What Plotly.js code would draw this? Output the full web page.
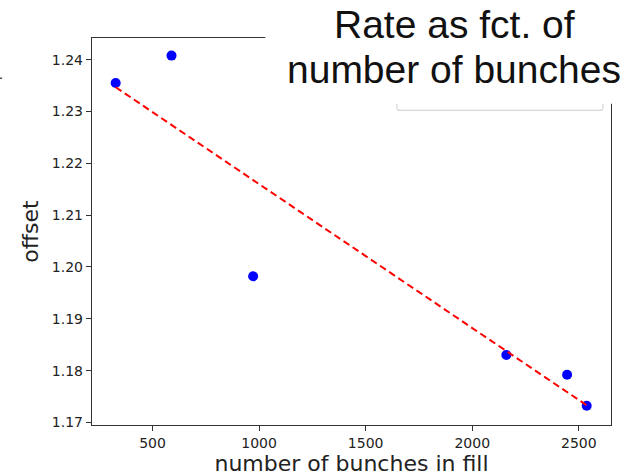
<!DOCTYPE html>
<html>
<head>
<meta charset="utf-8">
<script src="https://cdn.plot.ly/plotly-3.0.1.min.js"></script>
<style>html,body{margin:0;padding:0;background:#fff;}#chart{width:631px;height:476px;}</style>
</head>
<body>
<div id="chart"></div>
<script>
// Data
const bunches = [327, 589, 972, 2160, 2445, 2537];
const offsetVals = [1.2355, 1.2408, 1.1982, 1.1830, 1.1792, 1.1732];
const fitX = [327, 2537];
const fitY = [1.2347, 1.1733];
const xTicks = [500, 1000, 1500, 2000, 2500];
const yTicks = [1.17, 1.18, 1.19, 1.20, 1.21, 1.22, 1.23, 1.24];
const yTickText = ['1.17', '1.18', '1.19', '1.20', '1.21', '1.22', '1.23', '1.24'];
const titleLines = ['Rate as fct. of', 'number of bunches'];
const xTitle = 'number of bunches in fill';
const yTitle = 'offset';

const L = 92.3, R = 611, T = 38.3, B = 425, W = 631, H = 476;
const px = v => (v - L) / (R - L);
const py = v => (B - v) / (B - T);

const traces = [
  {x: bunches, y: offsetVals, type: 'scatter', mode: 'markers',
   marker: {color: '#0000ff', size: 10}, showlegend: false, hoverinfo: 'skip'},
  {x: fitX, y: fitY, type: 'scatter', mode: 'lines',
   line: {color: '#ff0000', width: 2, dash: '7px,4px'}, showlegend: false, hoverinfo: 'skip'}
];

const lx0 = px(397), lx1 = px(603), lyb = py(110.7), lyt = py(60);
const rx = 3 / (R - L), ry = 3 / (B - T);
const legendPath = `M ${lx0},${lyt} L ${lx0},${lyb + ry} Q ${lx0},${lyb} ${lx0 + rx},${lyb} L ${lx1 - rx},${lyb} Q ${lx1},${lyb} ${lx1},${lyb + ry} L ${lx1},${lyt}`;

const layout = {
  width: W, height: H,
  margin: {l: L, r: W - R, t: T, b: H - B, pad: 0},
  paper_bgcolor: '#ffffff', plot_bgcolor: '#ffffff',
  font: {family: 'DejaVu Sans', color: '#222'},
  xaxis: {
    range: [216, 2651], tickvals: xTicks, ticktext: xTicks.map(String),
    showgrid: false, zeroline: false, showline: true, mirror: true,
    linecolor: '#333', linewidth: 1.2, ticks: 'outside', ticklen: 5, tickcolor: '#333',
    tickfont: {family: 'DejaVu Sans', size: 14, color: '#222'},
    title: {text: xTitle, font: {family: 'DejaVu Sans', size: 22, color: '#222'}, standoff: 9}
  },
  yaxis: {
    range: [1.1695, 1.2442], tickvals: yTicks, ticktext: yTickText,
    showgrid: false, zeroline: false, showline: true, mirror: true,
    linecolor: '#333', linewidth: 1.2, ticks: 'outside', ticklen: 5, tickcolor: '#333',
    tickfont: {family: 'DejaVu Sans', size: 14, color: '#222'},
    title: {text: yTitle, font: {family: 'DejaVu Sans', size: 22, color: '#222'}, standoff: 7}
  },
  shapes: [
    {type: 'path', xref: 'paper', yref: 'paper', path: legendPath,
     line: {color: '#d8d8d8', width: 1.2}, layer: 'above'},
    {type: 'rect', xref: 'paper', yref: 'paper', x0: px(265.5), x1: px(640), y0: py(104), y1: py(-5),
     fillcolor: '#ffffff', line: {width: 0}, layer: 'above'},
    {type: 'line', xref: 'paper', yref: 'paper', x0: px(0), x1: px(2.5), y0: py(78.5), y1: py(78.5),
     line: {color: '#555', width: 1.5}, layer: 'above'}
  ],
  annotations: [
    {text: titleLines[0], xref: 'paper', yref: 'paper', x: px(455), y: py(25),
     xanchor: 'center', yanchor: 'middle', showarrow: false,
     font: {family: 'Liberation Sans, Arial', size: 39, color: '#111'}},
    {text: titleLines[1], xref: 'paper', yref: 'paper', x: px(454), y: py(70),
     xanchor: 'center', yanchor: 'middle', showarrow: false,
     font: {family: 'Liberation Sans, Arial', size: 39, color: '#111'}}
  ]
};

Plotly.newPlot('chart', traces, layout, {staticPlot: true, displayModeBar: false});
</script>
</body>
</html>
